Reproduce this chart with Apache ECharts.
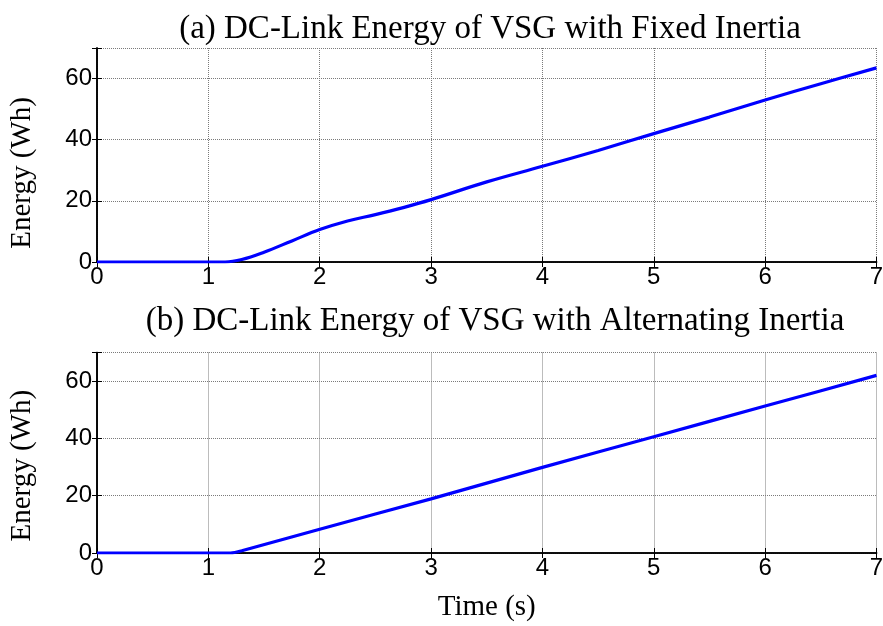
<!DOCTYPE html>
<html>
<head>
<meta charset="utf-8">
<script src="https://cdn.jsdelivr.net/npm/echarts@6/dist/echarts.min.js"></script>
<style>
  html, body { margin: 0; padding: 0; background: #fff; }
  #chart { width: 883px; height: 626px; }
</style>
</head>
<body>
<div id="chart"></div>
<script>
// DC-link energy traces (time in s, energy in Wh)
const timeA = [0, 1, 1.15, 1.3, 1.5, 1.75, 2, 2.25, 2.5, 2.75, 3, 3.5, 4, 4.5, 5, 5.5, 6, 6.5, 7];
const energyA = [0, 0, 0, 0.8, 3.2, 6.9, 10.6, 13.4, 15.5, 17.8, 20.4, 26.2, 31.3, 36.5, 42.0, 47.4, 53.0, 58.3, 63.5];

const timeB = [0, 1, 1.2, 1.3, 2, 3, 4, 5, 6, 7];
const energyB = [0, 0, 0, 0.8, 8.3, 18.9, 29.9, 40.6, 51.3, 62.0];

const titleA = '(a) DC-Link Energy of VSG with Fixed Inertia';
const titleB = '(b) DC-Link Energy of VSG with Alternating Inertia';
const yName = 'Energy (Wh)';
const xName = 'Time (s)';

const yTicks = [0, 20, 40, 60];

const serif = 'Liberation Serif, Times New Roman, serif';
const sans = 'Liberation Sans, Arial, sans-serif';

const grids = [
  { left: 97, right: 6.5, top: 48, height: 214, outerBoundsMode: 'none' },
  { left: 97, right: 6.5, top: 352.5, height: 200.5, outerBoundsMode: 'none' }
];

const gridLine = { show: true, lineStyle: { color: '#7a7a7a', width: 1, type: [1, 1] } };
const tickIn = { show: true, inside: true, length: 5, lineStyle: { color: '#000', width: 1 } };
const axisLineBlack = { show: true, lineStyle: { color: '#000', width: 1.6 } };

function xAxes(gi, withName) {
  return [
    {
      type: 'value', gridIndex: gi, position: 'bottom', min: 0, max: 7, interval: 1,
      axisLine: axisLineBlack, axisTick: tickIn, splitLine: gridLine,
      axisLabel: { color: '#000', fontFamily: sans, fontSize: 24, margin: 3 },
      name: withName ? xName : '', nameLocation: 'middle', nameGap: 40,
      nameTextStyle: { color: '#000', fontFamily: serif, fontSize: 29 }
    },
    {
      type: 'value', gridIndex: gi, position: 'top', min: 0, max: 7, interval: 1,
      axisLine: axisLineBlack, axisTick: tickIn, splitLine: { show: false },
      axisLabel: { show: false }
    }
  ];
}

function yAxes(gi, shift) {
  return [
    {
      type: 'value', gridIndex: gi, position: 'left', min: 0, max: 70, interval: 20,
      axisLine: axisLineBlack, axisTick: tickIn, splitLine: gridLine,
      axisLabel: {
        color: '#000', fontFamily: sans, fontSize: 24, margin: 5,
        formatter: v => (yTicks.indexOf(v) >= 0 ? String(v) : '')
      },
      name: yName, nameLocation: 'middle', nameGap: 60, nameRotate: 90,
      nameTextStyle: { color: '#000', fontFamily: serif, fontSize: 29, padding: [0, shift, 0, 0] }
    },
    {
      type: 'value', gridIndex: gi, position: 'right', min: 0, max: 70, interval: 20,
      axisLine: axisLineBlack, axisTick: tickIn, splitLine: { show: false },
      axisLabel: { show: false }
    }
  ];
}

const lineStyle = { color: '#0000ff', width: 3.2 };

const option = {
  backgroundColor: '#fff',
  animation: false,
  title: [
    { text: titleA, left: 485, top: 8, textAlign: 'center',
      textStyle: { color: '#000', fontFamily: serif, fontSize: 33, fontWeight: 'normal' } },
    { text: titleB, left: 490, top: 300, textAlign: 'center',
      textStyle: { color: '#000', fontFamily: serif, fontSize: 33, fontWeight: 'normal' } }
  ],
  grid: grids,
  xAxis: [...xAxes(0, false), ...xAxes(1, true)],
  yAxis: [...yAxes(0, 36), ...yAxes(1, 26)],
  series: [
    {
      type: 'line', xAxisIndex: 0, yAxisIndex: 0, showSymbol: false, smooth: 0.4,
      lineStyle: lineStyle, data: timeA.map((t, i) => [t, energyA[i]])
    },
    {
      type: 'line', xAxisIndex: 2, yAxisIndex: 2, showSymbol: false, smooth: 0.2,
      lineStyle: lineStyle, data: timeB.map((t, i) => [t, energyB[i]])
    }
  ]
};

echarts.init(document.getElementById('chart'), null, { renderer: 'canvas' }).setOption(option);
</script>
</body>
</html>
